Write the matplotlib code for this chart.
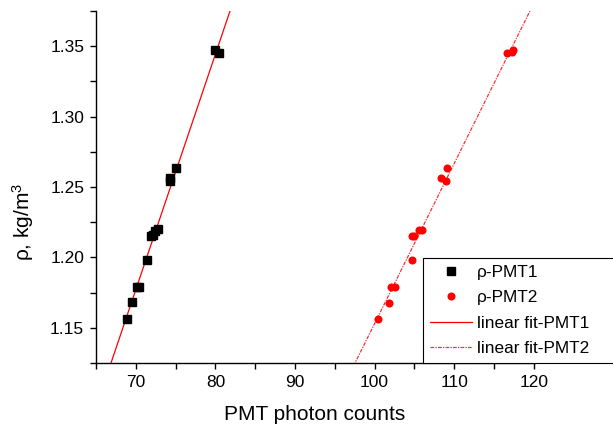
import matplotlib
matplotlib.use("Agg")
import matplotlib.pyplot as plt
import numpy as np
from matplotlib.ticker import MultipleLocator

plt.rcParams['font.family'] = ['Liberation Sans', 'DejaVu Sans']
plt.rcParams['mathtext.fontset'] = 'custom'
plt.rcParams['mathtext.rm'] = 'Liberation Sans'
plt.rcParams['mathtext.it'] = 'Liberation Sans:italic'

# PMT1 data (black squares)
pmt1_x = [68.9, 69.5, 70.1, 70.4, 71.4, 71.9, 72.1, 72.4, 72.8, 74.3, 74.3, 75.0, 80.0, 80.45]
pmt1_y = [1.156, 1.168, 1.179, 1.179, 1.198, 1.215, 1.216, 1.219, 1.220, 1.2565, 1.254, 1.2636, 1.347, 1.345]

# PMT2 data (red circles)
pmt2_x = [100.4, 101.85, 102.06, 102.56, 104.74, 104.66, 104.99, 105.6, 105.9, 108.4, 108.97, 109.13, 116.6, 117.2, 117.35]
pmt2_y = [1.1564, 1.1678, 1.179, 1.179, 1.198, 1.215, 1.215, 1.2195, 1.2198, 1.2565, 1.254, 1.2636, 1.345, 1.346, 1.347]

# Linear fits (slope, intercept)
fit1_slope, fit1_intercept = 0.01672, 0.0067
fit2_slope, fit2_intercept = 0.011374, 0.0156

xlim = (65, 120.2)
ylim = (1.125, 1.375)
xlabel = "PMT photon counts"
ylabel = "ρ, kg/m$^{3}$"
legend_labels = ["ρ-PMT1", "ρ-PMT2", "linear fit-PMT1", "linear fit-PMT2"]

px_per_unit = 7.96
fig = plt.figure(figsize=(6.13, 4.32), dpi=100)
ax = fig.add_axes([96/613, 69/432, (xlim[1]-xlim[0])*px_per_unit/613, 352/432])

xf = np.array([60.0, 135.0])
h1, = ax.plot(pmt1_x, pmt1_y, 's', color='black', markersize=5.3, linestyle='none', label=legend_labels[0], zorder=3)
h2, = ax.plot(pmt2_x, pmt2_y, 'o', color='red', markersize=5.8, markeredgewidth=0, linestyle='none', label=legend_labels[1], zorder=3)
h3, = ax.plot(xf, fit1_intercept + fit1_slope * xf, color='red', linewidth=0.9, label=legend_labels[2], zorder=2)
h4, = ax.plot(xf, fit2_intercept + fit2_slope * xf, color='#ff3030', linewidth=0.9,
              linestyle=(0, (3, 1, 1, 1)), label=legend_labels[3], zorder=2)

ax.set_xlim(*xlim)
ax.set_ylim(*ylim)
ax.xaxis.set_major_locator(MultipleLocator(10))
ax.xaxis.set_minor_locator(MultipleLocator(5))
ax.yaxis.set_major_locator(MultipleLocator(0.05))
ax.yaxis.set_minor_locator(MultipleLocator(0.025))
ax.xaxis.set_major_formatter(matplotlib.ticker.FuncFormatter(lambda v, p: f"{v:.0f}"))
ax.yaxis.set_major_formatter(matplotlib.ticker.FuncFormatter(lambda v, p: f"{v:.2f}"))

for s in ['top', 'right']:
    ax.spines[s].set_visible(False)
for s in ['left', 'bottom']:
    ax.spines[s].set_linewidth(1.0)
ax.tick_params(which='both', direction='out', width=1.0, labelsize=12.5)
ax.tick_params(which='major', length=4.5, pad=4)
ax.tick_params(which='minor', length=4.0)

fig.text(314.5/613, 1 - 415/432, xlabel, fontsize=15, ha='center', va='center')
fig.text(23/613, 1 - 222/432, ylabel, fontsize=15, ha='center', va='center', rotation=90)

leg = fig.legend(handles=[h1, h2, h3, h4], labels=legend_labels,
                 loc='lower left', bbox_to_anchor=(422.7/613, 69/432, 0.35, 107/432),
                 mode='expand', fontsize=12.4, frameon=True, fancybox=False,
                 edgecolor='black', framealpha=1, borderpad=0.4, labelspacing=0.6,
                 handlelength=2.45, handletextpad=0.3, borderaxespad=0, markerscale=1.0)
leg.get_frame().set_linewidth(0.8)

fig.savefig("out.png", dpi=100)
